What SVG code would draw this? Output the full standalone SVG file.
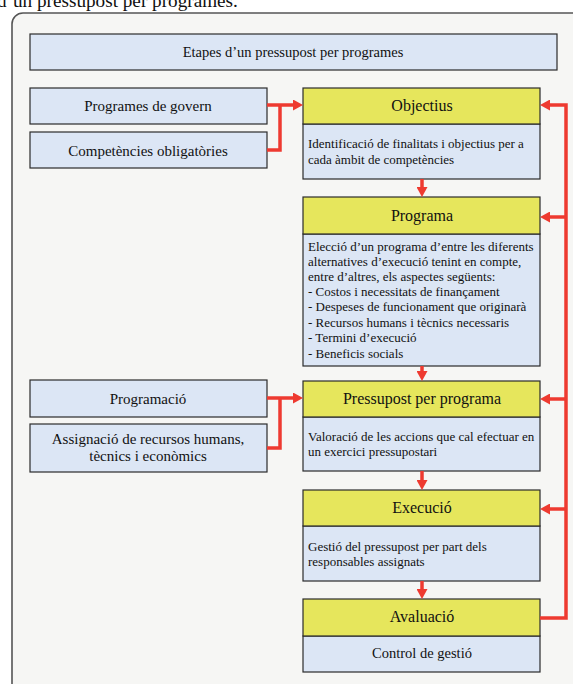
<svg xmlns="http://www.w3.org/2000/svg" width="573" height="684" viewBox="0 0 573 684">
<defs>
<style>
text{font-family:"Liberation Serif","Times New Roman",serif;fill:#111}
.box{fill:#dce6f5;stroke:#2b2b2b;stroke-width:1.2}
.hdr{fill:#e6e65c;stroke:#2b2b2b;stroke-width:1.2}
.t15{font-size:15px;text-anchor:middle}
.t14{font-size:14.5px;text-anchor:middle}
.th{font-size:16px;text-anchor:middle}
.tb{font-size:13px}
.conn{fill:none;stroke:#ee3a30;stroke-width:3.5}
</style>
<marker id="ah" markerUnits="userSpaceOnUse" markerWidth="10" markerHeight="11" refX="6" refY="5.5" orient="auto" viewBox="0 0 10 11">
<path d="M0,0 L10,5.5 L0,11 z" fill="#ee3a30"/>
</marker>
</defs>
<rect width="573" height="684" fill="#ffffff"/>
<text x="-3" y="7" style="font-size:19.2px">d’un pressupost per programes.</text>
<rect x="12" y="13" width="620" height="700" rx="11" fill="#f6f6f4" stroke="#555" stroke-width="1.6"/>

<g id="title">
<rect class="box" x="30" y="34" width="527" height="36"/>
<text class="t14" x="293" y="57">Etapes d’un pressupost per programes</text>
</g>

<g id="programes-govern">
<rect class="box" x="30" y="88" width="237" height="36"/>
<text class="t15" x="148" y="111">Programes de govern</text>
</g>
<g id="competencies">
<rect class="box" x="30" y="132" width="237" height="36"/>
<text class="t15" x="148" y="156">Competències obligatòries</text>
</g>
<g id="programacio">
<rect class="box" x="30" y="380" width="237" height="37"/>
<text class="t15" x="148" y="404">Programació</text>
</g>
<g id="assignacio">
<rect class="box" x="30" y="424" width="237" height="48"/>
<text class="t15" x="148" y="444">Assignació de recursos humans,</text>
<text class="t15" x="148" y="461">tècnics i econòmics</text>
</g>

<g id="objectius">
<rect class="box" x="303" y="124" width="237" height="55"/>
<rect class="hdr" x="303" y="88" width="237" height="36"/>
<text class="th" x="422" y="111">Objectius</text>
<text class="tb" x="308" y="148">Identificació de finalitats i objectius per a</text>
<text class="tb" x="308" y="164">cada àmbit de competències</text>
</g>

<g id="programa">
<rect class="box" x="303" y="234" width="237" height="132"/>
<rect class="hdr" x="303" y="197" width="237" height="37"/>
<text class="th" x="422" y="221">Programa</text>
<text class="tb" x="308" y="251">Elecció d’un programa d’entre les diferents</text>
<text class="tb" x="308" y="266">alternatives d’execució tenint en compte,</text>
<text class="tb" x="308" y="281">entre d’altres, els aspectes següents:</text>
<text class="tb" x="308" y="296">- Costos i necessitats de finançament</text>
<text class="tb" x="308" y="311">- Despeses de funcionament que originarà</text>
<text class="tb" x="308" y="327">- Recursos humans i tècnics necessaris</text>
<text class="tb" x="308" y="342">- Termini d’execució</text>
<text class="tb" x="308" y="358">- Beneficis socials</text>
</g>

<g id="pressupost">
<rect class="box" x="303" y="417" width="237" height="54"/>
<rect class="hdr" x="303" y="381" width="237" height="36"/>
<text class="th" x="422" y="404">Pressupost per programa</text>
<text class="tb" x="308" y="441">Valoració de les accions que cal efectuar en</text>
<text class="tb" x="308" y="456">un exercici pressupostari</text>
</g>

<g id="execucio">
<rect class="box" x="303" y="526" width="237" height="55"/>
<rect class="hdr" x="303" y="490" width="237" height="36"/>
<text class="th" x="422" y="513">Execució</text>
<text class="tb" x="308" y="551">Gestió del pressupost per part dels</text>
<text class="tb" x="308" y="566">responsables assignats</text>
</g>

<g id="avaluacio">
<rect class="box" x="303" y="636" width="237" height="36"/>
<rect class="hdr" x="303" y="599" width="237" height="37"/>
<text class="th" x="422" y="622">Avaluació</text>
<text class="t14" x="422" y="658">Control de gestió</text>
</g>

<g id="connectors">
<path class="conn" d="M267,105 H299" marker-end="url(#ah)"/>
<path class="conn" d="M267,150 H280 V105"/>
<path class="conn" d="M267,398 H299" marker-end="url(#ah)"/>
<path class="conn" d="M267,448 H280 V398"/>
<path class="conn" d="M422,179 V193" marker-end="url(#ah)"/>
<path class="conn" d="M422,366 V377" marker-end="url(#ah)"/>
<path class="conn" d="M422,471 V486" marker-end="url(#ah)"/>
<path class="conn" d="M422,581 V595" marker-end="url(#ah)"/>
<path class="conn" d="M540,618 H566 V105 H544" marker-end="url(#ah)"/>
<path class="conn" d="M566,217 H544" marker-end="url(#ah)"/>
<path class="conn" d="M566,399 H544" marker-end="url(#ah)"/>
<path class="conn" d="M566,509 H544" marker-end="url(#ah)"/>
</g>
</svg>
